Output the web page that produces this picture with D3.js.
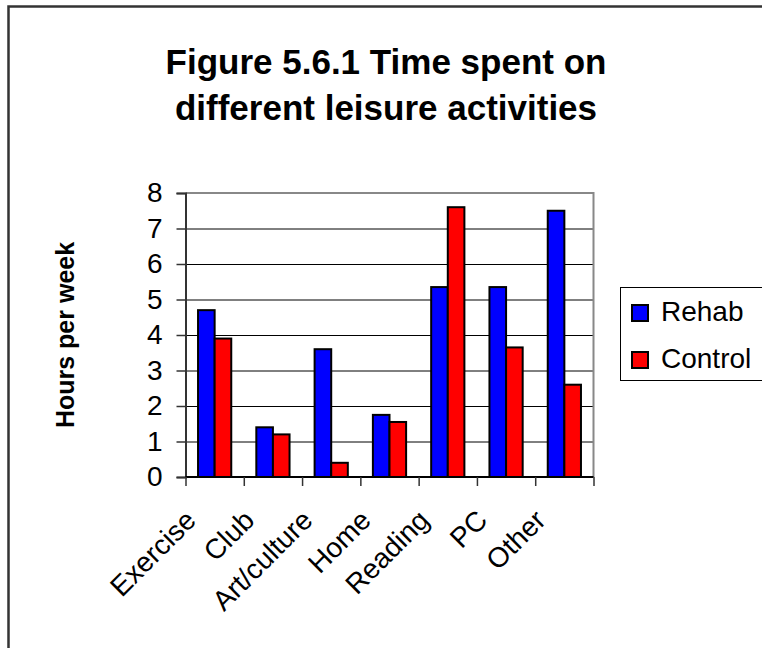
<!DOCTYPE html>
<html>
<head>
<meta charset="utf-8">
<script src="https://cdn.jsdelivr.net/npm/d3@7"></script>
<style>
  html, body { margin: 0; padding: 0; background: #fff; overflow: hidden; }
  svg { display: block; font-family: "Liberation Sans", Arial, sans-serif; }
</style>
</head>
<body>
<svg id="chart" width="762" height="648"></svg>
<script>
const categories = ["Exercise", "Club", "Art/culture", "Home", "Reading", "PC", "Other"];
const seriesNames = ["Rehab", "Control"];
const rehab = [4.7, 1.4, 3.6, 1.75, 5.35, 5.35, 7.5];
const control = [3.9, 1.2, 0.4, 1.55, 7.6, 3.65, 2.6];
const yTicks = [0, 1, 2, 3, 4, 5, 6, 7, 8];
const colors = ["#0000FF", "#FF0000"];
const titleLines = ["Figure 5.6.1 Time spent on", "different leisure activities"];
const yTitle = "Hours per week";

const svg = d3.select("#chart");
const plot = { left: 185.5, right: 593.5, top: 193, bottom: 477 };

// outer chart border (extends beyond the visible area on right/bottom)
svg.append("path").attr("d", "M8.5,700V6.5H800")
  .attr("fill", "none").attr("stroke", "#333").attr("stroke-width", 2.5);

// title
svg.append("text").attr("x", 386).attr("text-anchor", "middle")
  .attr("font-weight", "bold").attr("font-size", 35).attr("fill", "#000")
  .selectAll("tspan").data(titleLines).join("tspan")
  .attr("x", 386).attr("y", (d, i) => 74 + i * 46).text(d => d);

const x = d3.scaleBand().domain(categories).range([plot.left, plot.right])
  .paddingInner(0.43).paddingOuter(0.215);
const x1 = d3.scaleBand().domain(seriesNames).range([0, x.bandwidth()]);
const y = d3.scaleLinear().domain([0, 8]).range([plot.bottom, plot.top]);

// gridlines
svg.append("g").attr("transform", `translate(${plot.left},0)`)
  .call(d3.axisLeft(y).tickValues(yTicks.filter(v => v > 0 && v < 8)).tickSize(-(plot.right - plot.left)).tickFormat(""))
  .call(g => g.select(".domain").remove())
  .call(g => g.selectAll("line").attr("stroke", "#000").attr("stroke-width", 1));

// plot area border top/right (gray)
svg.append("path")
  .attr("d", `M${plot.left},${y(8)}H${plot.right}V${plot.bottom}`)
  .attr("fill", "none").attr("stroke", "#888").attr("stroke-width", 2);

// bars
const data = categories.map((c, i) => ({ c, vals: [rehab[i], control[i]] }));
const groups = svg.append("g").selectAll("g").data(data).join("g")
  .attr("transform", d => `translate(${x(d.c)},0)`);
groups.selectAll("rect").data(d => d.vals.map((v, j) => ({ v, s: seriesNames[j], j })))
  .join("rect")
  .attr("x", d => x1(d.s)).attr("width", x1.bandwidth())
  .attr("y", d => y(d.v)).attr("height", d => y(0) - y(d.v))
  .attr("fill", d => colors[d.j]).attr("stroke", "#000").attr("stroke-width", 2);

// y axis
svg.append("g").attr("transform", `translate(${plot.left},0)`)
  .call(d3.axisLeft(y).tickValues(yTicks).tickSize(9).tickPadding(14).tickFormat(d3.format("d")))
  .call(g => g.select(".domain").attr("stroke", "#333").attr("stroke-width", 2))
  .call(g => g.selectAll(".tick line").attr("stroke", "#333").attr("stroke-width", 1.5))
  .call(g => g.selectAll("text").attr("font-size", 28).attr("fill", "#000")
    .attr("font-family", "'Liberation Sans', Arial, sans-serif"));

// x axis: line + boundary ticks
const xb = d3.scaleLinear().domain([0, categories.length]).range([plot.left, plot.right]);
svg.append("g").attr("transform", `translate(0,${plot.bottom})`)
  .call(d3.axisBottom(xb).ticks(categories.length).tickSize(9).tickFormat(""))
  .call(g => g.select(".domain").attr("stroke", "#000").attr("stroke-width", 2).attr("d", `M${plot.left},0H${plot.right}`))
  .call(g => g.selectAll(".tick line").attr("stroke", "#333").attr("stroke-width", 1.5));

// x labels rotated
svg.append("g").selectAll("text").data(categories).join("text")
  .attr("transform", d => `translate(${x(d) + x.bandwidth() / 2 - 17},${plot.bottom + 45}) rotate(-45)`)
  .attr("text-anchor", "end").attr("font-size", 28).attr("fill", "#000")
  .text(d => d);

// y title
svg.append("text").attr("transform", `translate(74,${(plot.top + plot.bottom) / 2}) rotate(-90)`)
  .attr("text-anchor", "middle").attr("font-weight", "bold").attr("font-size", 25).attr("fill", "#000")
  .text(yTitle);

// legend
const lg = svg.append("g");
lg.append("rect").attr("x", 620.5).attr("y", 287.5).attr("width", 200).attr("height", 93)
  .attr("fill", "#fff").attr("stroke", "#000").attr("stroke-width", 1);
const items = lg.selectAll("g").data(seriesNames).join("g")
  .attr("transform", (d, i) => `translate(632,${305 + i * 47})`);
items.append("rect").attr("width", 16).attr("height", 16)
  .attr("fill", (d, i) => colors[i]).attr("stroke", "#000").attr("stroke-width", 2);
items.append("text").attr("x", 29).attr("y", 16).attr("font-size", 28).attr("fill", "#000").text(d => d);
</script>
</body>
</html>
